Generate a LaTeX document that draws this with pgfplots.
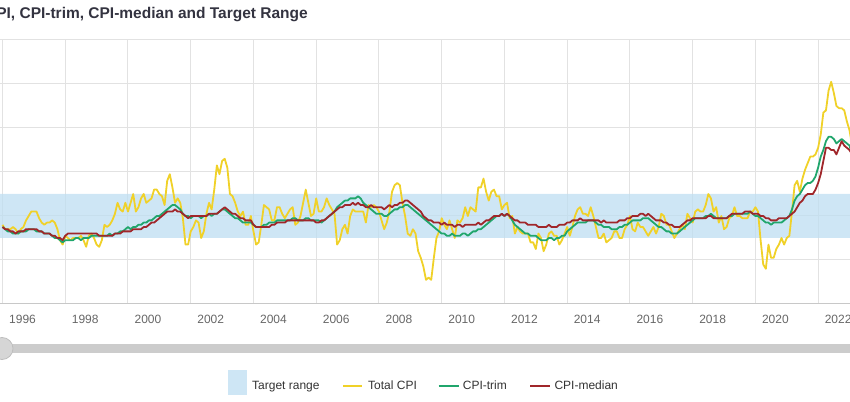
\documentclass[border=0pt]{standalone}
\usepackage{fontspec}
\setmainfont{Liberation Sans}
\usepackage{pgfplots}
\usepackage{pgfplotstable}
\pgfplotsset{compat=1.18}
\definecolor{bandblue}{RGB}{190,222,242}
\definecolor{bandleg}{RGB}{206,230,245}
\definecolor{cyellow}{RGB}{240,209,40}
\definecolor{cgreen}{RGB}{32,166,108}
\definecolor{cred}{RGB}{160,38,42}
\definecolor{gridgray}{RGB}{226,226,226}
\definecolor{axisgray}{RGB}{200,200,200}
\definecolor{labelgray}{RGB}{102,102,102}
\definecolor{titlec}{RGB}{51,51,64}
\definecolor{legtext}{RGB}{51,51,51}
\definecolor{slidergray}{RGB}{204,204,204}
\definecolor{handlegray}{RGB}{214,214,214}
\definecolor{handleedge}{RGB}{190,190,190}

% m = months since Jan 1996; T = total CPI, G = CPI-trim, R = CPI-median (y/y %)
\pgfplotstableread{
m T G R
0 1.6 1.5 1.5
1 1.4 1.4 1.4
2 1.4 1.3 1.4
3 1.4 1.3 1.3
4 1.5 1.2 1.3
5 1.4 1.2 1.2
6 1.2 1.2 1.3
7 1.4 1.3 1.3
8 1.5 1.3 1.3
9 1.8 1.3 1.4
10 2.0 1.4 1.4
11 2.2 1.4 1.4
12 2.2 1.4 1.4
13 2.2 1.3 1.4
14 1.9 1.3 1.3
15 1.7 1.3 1.3
16 1.6 1.2 1.2
17 1.7 1.2 1.2
18 1.7 1.2 1.2
19 1.8 1.1 1.1
20 1.7 1.0 1.1
21 1.4 1.0 1.0
22 0.9 0.9 1.0
23 0.7 0.8 0.9
24 1.1 0.9 1.1
25 1.0 0.9 1.2
26 0.9 0.9 1.2
27 1.0 0.9 1.2
28 1.0 1.0 1.2
29 1.0 1.0 1.2
30 1.1 0.9 1.2
31 0.9 1.0 1.2
32 0.6 1.0 1.2
33 1.1 1.0 1.2
34 1.2 1.1 1.2
35 1.0 1.1 1.2
36 0.7 1.1 1.2
37 0.6 1.1 1.1
38 0.9 1.1 1.1
39 1.6 1.1 1.1
40 1.5 1.1 1.1
41 1.6 1.2 1.1
42 1.8 1.1 1.1
43 2.1 1.2 1.2
44 2.6 1.2 1.2
45 2.3 1.3 1.2
46 2.2 1.3 1.3
47 2.6 1.4 1.3
48 2.2 1.5 1.3
49 2.6 1.4 1.3
50 3.0 1.5 1.4
51 2.2 1.5 1.4
52 2.4 1.6 1.4
53 2.8 1.6 1.4
54 3.0 1.7 1.5
55 2.6 1.7 1.5
56 2.7 1.8 1.6
57 2.8 1.8 1.7
58 3.2 1.9 1.7
59 3.2 2.0 1.8
60 3.0 2.0 1.9
61 2.9 2.1 2.0
62 2.5 2.2 2.1
63 3.6 2.3 2.2
64 3.9 2.4 2.2
65 3.3 2.5 2.2
66 2.6 2.5 2.3
67 2.8 2.4 2.2
68 2.6 2.3 2.2
69 1.9 2.1 2.1
70 0.7 2.0 2.0
71 0.7 2.0 1.9
72 1.3 1.9 2.0
73 1.5 2.0 2.0
74 1.8 2.0 2.0
75 1.7 2.0 2.0
76 1.0 1.9 2.0
77 1.3 2.0 2.0
78 2.1 2.0 2.0
79 2.6 2.1 2.1
80 2.3 2.0 2.1
81 3.2 2.1 2.1
82 4.3 2.1 2.1
83 3.9 2.2 2.2
84 4.5 2.3 2.3
85 4.6 2.3 2.4
86 4.2 2.2 2.3
87 3.0 2.1 2.2
88 2.9 2.0 2.1
89 2.6 1.9 2.1
90 2.2 1.9 2.0
91 2.0 1.8 1.9
92 2.2 1.7 1.9
93 1.6 1.7 1.8
94 1.6 1.7 1.8
95 2.0 1.7 1.8
96 1.3 1.6 1.6
97 0.7 1.5 1.5
98 0.8 1.5 1.5
99 1.6 1.5 1.5
100 2.5 1.6 1.5
101 2.4 1.6 1.5
102 2.3 1.7 1.5
103 1.8 1.7 1.6
104 1.8 1.7 1.6
105 2.4 1.8 1.7
106 2.4 1.8 1.7
107 2.1 1.8 1.7
108 1.9 1.8 1.7
109 2.1 1.8 1.8
110 2.3 1.8 1.8
111 2.4 1.9 1.8
112 1.6 1.9 1.8
113 1.7 1.8 1.8
114 2.0 1.8 1.8
115 2.6 1.8 1.8
116 3.2 1.9 1.8
117 2.6 1.9 1.8
118 2.0 1.8 1.8
119 2.1 1.8 1.8
120 2.8 1.8 1.7
121 2.2 1.8 1.7
122 2.2 1.7 1.8
123 2.4 1.8 1.8
124 2.8 1.9 1.9
125 2.5 2.0 2.0
126 2.3 2.1 2.1
127 2.1 2.2 2.2
128 0.7 2.4 2.3
129 0.9 2.5 2.4
130 1.4 2.6 2.4
131 1.6 2.7 2.5
132 1.2 2.7 2.5
133 2.0 2.8 2.5
134 2.3 2.8 2.6
135 2.2 2.8 2.5
136 2.2 2.9 2.6
137 2.2 2.8 2.5
138 2.2 2.6 2.5
139 1.7 2.5 2.4
140 2.5 2.4 2.4
141 2.4 2.3 2.5
142 2.5 2.2 2.4
143 2.4 2.1 2.4
144 2.2 2.1 2.4
145 1.8 2.1 2.4
146 1.4 2.0 2.3
147 1.7 2.0 2.4
148 2.2 2.1 2.5
149 3.1 2.2 2.4
150 3.4 2.3 2.5
151 3.5 2.3 2.5
152 3.4 2.4 2.6
153 2.6 2.4 2.6
154 2.0 2.5 2.7
155 1.2 2.5 2.7
156 1.1 2.4 2.6
157 1.4 2.3 2.5
158 1.2 2.2 2.4
159 0.4 2.1 2.3
160 0.1 2.0 2.2
161 -0.3 1.9 2.0
162 -0.9 1.8 1.9
163 -0.8 1.7 1.8
164 -0.9 1.6 1.8
165 0.1 1.5 1.7
166 1.0 1.4 1.7
167 1.3 1.3 1.7
168 1.9 1.2 1.6
169 1.6 1.2 1.7
170 1.4 1.1 1.6
171 1.8 1.1 1.6
172 1.4 1.2 1.6
173 1.0 1.1 1.5
174 1.8 1.1 1.6
175 1.7 1.1 1.6
176 1.9 1.2 1.5
177 2.4 1.2 1.6
178 2.0 1.1 1.6
179 2.4 1.2 1.6
180 2.3 1.3 1.6
181 2.2 1.3 1.6
182 3.3 1.4 1.7
183 3.3 1.4 1.6
184 3.7 1.5 1.7
185 3.1 1.6 1.8
186 2.7 1.7 1.8
187 3.1 1.8 1.9
188 3.2 1.9 2.0
189 2.9 2.0 2.0
190 2.9 2.0 2.0
191 2.3 2.1 2.1
192 2.5 2.0 2.0
193 2.6 2.1 2.1
194 1.9 2.0 2.0
195 2.0 1.8 1.9
196 1.2 1.6 1.8
197 1.5 1.5 1.8
198 1.3 1.4 1.7
199 1.2 1.3 1.7
200 1.2 1.2 1.7
201 1.2 1.2 1.6
202 0.8 1.1 1.6
203 0.8 1.1 1.6
204 0.5 1.1 1.6
205 1.2 1.0 1.5
206 1.0 0.9 1.5
207 0.4 0.9 1.5
208 0.7 0.9 1.5
209 1.2 1.0 1.6
210 1.3 1.0 1.5
211 1.1 0.9 1.5
212 1.1 1.0 1.5
213 0.7 1.0 1.6
214 0.9 1.1 1.6
215 1.2 1.1 1.6
216 1.5 1.3 1.7
217 1.1 1.4 1.7
218 1.5 1.5 1.8
219 2.0 1.6 1.8
220 2.3 1.7 1.8
221 2.4 1.7 1.9
222 2.1 1.7 1.8
223 2.1 1.7 1.8
224 2.0 1.8 1.8
225 2.4 1.8 1.8
226 2.0 1.8 1.8
227 1.5 1.7 1.8
228 1.0 1.6 1.8
229 1.0 1.6 1.7
230 1.2 1.5 1.8
231 0.8 1.5 1.7
232 0.9 1.5 1.7
233 1.0 1.4 1.7
234 1.3 1.4 1.7
235 1.3 1.4 1.7
236 1.0 1.5 1.8
237 1.0 1.5 1.8
238 1.4 1.6 1.8
239 1.6 1.6 1.9
240 2.0 1.7 1.9
241 1.4 1.8 2.0
242 1.3 1.8 2.0
243 1.7 1.8 2.0
244 1.5 1.8 2.1
245 1.5 1.9 2.1
246 1.3 1.9 2.0
247 1.1 1.9 2.1
248 1.3 1.8 2.0
249 1.5 1.7 1.9
250 1.2 1.6 1.8
251 1.5 1.5 1.8
252 2.1 1.5 1.8
253 2.0 1.4 1.7
254 1.6 1.3 1.7
255 1.6 1.3 1.6
256 1.3 1.2 1.6
257 1.0 1.2 1.5
258 1.2 1.2 1.5
259 1.4 1.3 1.5
260 1.6 1.4 1.6
261 1.4 1.5 1.7
262 2.1 1.6 1.8
263 1.9 1.7 1.8
264 1.7 1.8 1.9
265 2.2 1.9 1.9
266 2.3 1.9 1.9
267 2.2 1.9 1.9
268 2.2 1.9 1.9
269 2.5 2.0 1.9
270 3.0 2.0 2.0
271 2.8 2.1 2.0
272 2.2 2.0 1.9
273 2.4 1.9 1.9
274 1.7 1.9 1.9
275 2.0 1.9 1.9
276 1.4 1.9 1.9
277 1.5 1.9 1.9
278 1.9 2.0 2.0
279 2.0 2.0 2.1
280 2.4 2.1 2.1
281 2.0 2.1 2.1
282 2.0 2.1 2.1
283 1.9 2.1 2.1
284 1.9 2.1 2.2
285 1.9 2.1 2.2
286 2.2 2.2 2.2
287 2.2 2.1 2.1
288 2.4 2.0 2.1
289 2.2 2.0 2.1
290 0.9 1.9 2.0
291 -0.2 1.8 2.0
292 -0.4 1.7 1.9
293 0.7 1.7 1.9
294 0.1 1.6 1.8
295 0.1 1.7 1.8
296 0.5 1.7 1.8
297 0.7 1.7 1.9
298 1.0 1.7 1.9
299 0.7 1.8 1.9
300 1.0 1.9 1.9
301 1.1 2.0 2.0
302 2.2 2.3 2.1
303 3.4 2.7 2.2
304 3.6 2.9 2.4
305 3.1 3.0 2.6
306 3.7 3.2 2.7
307 4.1 3.4 2.9
308 4.4 3.5 3.0
309 4.7 3.5 3.0
310 4.7 3.6 3.0
311 4.8 3.8 3.2
312 5.1 4.2 3.5
313 5.7 4.7 3.9
314 6.7 5.0 4.5
315 6.8 5.4 5.1
316 7.7 5.6 5.1
317 8.1 5.6 5.0
318 7.6 5.5 5.0
319 7.0 5.3 4.8
320 6.9 5.4 5.1
321 6.9 5.5 5.4
322 6.8 5.4 5.2
323 6.3 5.3 5.1
324 5.9 5.2 5.0
325 5.2 4.8 4.8
}\cpidata

\begin{document}
\begin{tikzpicture}[x=1pt,y=1pt]
\useasboundingbox (0,0) rectangle (850,401);
\begin{scope}
\clip (0,0) rectangle (850,401);
\begin{axis}[
  at={(0pt,97pt)}, anchor=south west,
  scale only axis, width=850pt, height=264pt,
  xmin=-0.96, xmax=324.2, ymin=-2, ymax=10,
  axis x line*=bottom, axis y line*=left,
  x axis line style={draw=axisgray, line width=1pt},
  y axis line style={draw=none},
  xtick={0,24,...,312},
  xticklabels={1996,1998,2000,2002,2004,2006,2008,2010,2012,2014,2016,2018,2020,2022},
  ytick={-2,0,...,10}, yticklabels={},
  major tick length=0pt,
  xmajorgrids, ymajorgrids,
  major grid style={draw=gridgray, line width=1pt},
  xticklabel style={font=\fontsize{12}{14}\selectfont, text=labelgray, xshift=20pt, yshift=-7.5pt},
]
\addplot[draw=none, fill=bandblue, fill opacity=0.75, forget plot]
  coordinates {(-10,1) (340,1) (340,3) (-10,3) (-10,1)};
\addplot[cyellow, line width=1.8pt, line join=round] table[x=m, y=T]{\cpidata};
\addplot[cgreen, line width=1.8pt, line join=round] table[x=m, y=G]{\cpidata};
\addplot[cred, line width=1.8pt, line join=round] table[x=m, y=R]{\cpidata};
\end{axis}

% title (cropped at left as in the reference)
\node[anchor=base east, inner sep=0, font=\bfseries\fontsize{15.5}{18}\selectfont, text=titlec]
  at (308,382.7) {CPI, CPI-trim, CPI-median and Target Range};

% navigator slider
\fill[slidergray] (8,48) rectangle (850,57);
\filldraw[fill=handlegray, draw=handleedge, line width=0.8pt] (2,52.5) circle (11pt);

% legend
\fill[bandleg] (228,6) rectangle (247,31);
\node[anchor=base west, inner sep=0, font=\fontsize{12}{14}\selectfont, text=legtext] at (252,11.5) {Target range};
\draw[cyellow, line width=2pt] (343,15) -- (362,15);
\node[anchor=base west, inner sep=0, font=\fontsize{12}{14}\selectfont, text=legtext] at (368,11.5) {Total CPI};
\draw[cgreen, line width=2pt] (438.5,15) -- (458.5,15);
\node[anchor=base west, inner sep=0, font=\fontsize{12}{14}\selectfont, text=legtext] at (462.7,11.5) {CPI-trim};
\draw[cred, line width=2pt] (530,15) -- (550,15);
\node[anchor=base west, inner sep=0, font=\fontsize{12}{14}\selectfont, text=legtext] at (554.3,11.5) {CPI-median};
\end{scope}
\end{tikzpicture}
\end{document}
